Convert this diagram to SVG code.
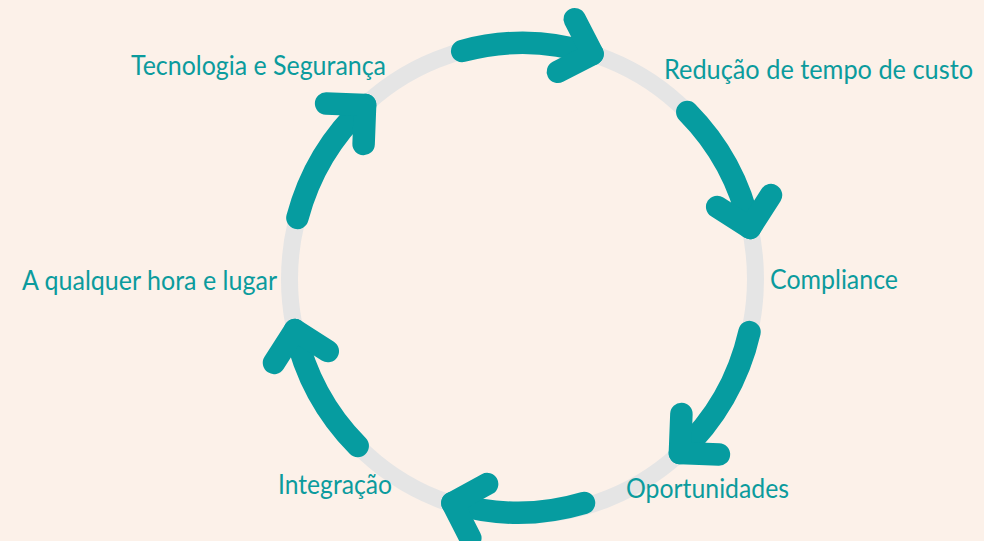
<svg xmlns="http://www.w3.org/2000/svg" width="984" height="541" viewBox="0 0 984 541">
<style>
.lbl{font-family:Lato,"Open Sans","Liberation Sans",sans-serif;font-size:27px;fill:#0b9b9d}
.shaft{fill:none;stroke:#069ca0;stroke-width:22.5;stroke-linecap:round}
.head{fill:none;stroke:#069ca0;stroke-width:22.5;stroke-linecap:round;stroke-linejoin:round}
</style>
<rect width="984" height="541" fill="#fcf1e9"/>
<g id="ring">
<ellipse cx="522.5" cy="279" rx="233" ry="236" fill="none" stroke="#e5e5e5" stroke-width="17"/>
</g>
<g id="connectors">
<g id="arrow1"><path class="shaft" d="M462.2,51 A233,236 0 0 1 592.6,53.9"/><polyline class="head" points="574.7,19.2 592.6,53.9 557.9,71.8"/></g>
<g id="arrow2"><path class="shaft" d="M687.3,112.1 A233,236 0 0 1 750,227.9"/><polyline class="head" points="771,195.1 750,227.9 717.2,206.9"/></g>
<g id="arrow3"><path class="shaft" d="M749.5,332.1 A233,236 0 0 1 679.9,453"/><polyline class="head" points="718.9,454.5 679.9,453 681.4,414"/></g>
<g id="arrow4"><path class="shaft" d="M584,503 A233,236 0 0 1 452.4,503"/><polyline class="head" points="470.3,538 452.4,503 487.1,484"/></g>
<g id="arrow5"><path class="shaft" d="M357.7,445.9 A233,236 0 0 1 295,330.1"/><polyline class="head" points="274,362.9 295,330.1 327.8,351.1"/></g>
<g id="arrow6"><path class="shaft" d="M297.4,217.9 A233,236 0 0 1 365.1,105"/><polyline class="head" points="326.1,103.5 365.1,105 363.6,144"/></g>
</g>
<g id="n1"><text class="lbl" x="131" y="75" textLength="255" lengthAdjust="spacingAndGlyphs">Tecnologia e Segurança</text></g>
<g id="n2"><text class="lbl" x="973" y="79" text-anchor="end" font-size="26" textLength="309" lengthAdjust="spacingAndGlyphs">Redução de tempo de custo</text></g>
<g id="n3"><text class="lbl" x="770" y="289" textLength="128" lengthAdjust="spacingAndGlyphs">Compliance</text></g>
<g id="n4"><text class="lbl" x="626" y="498" textLength="163" lengthAdjust="spacingAndGlyphs">Oportunidades</text></g>
<g id="n5"><text class="lbl" x="278" y="494" textLength="114" lengthAdjust="spacingAndGlyphs">Integração</text></g>
<g id="n6"><text class="lbl" x="22" y="290" textLength="255" lengthAdjust="spacingAndGlyphs">A qualquer hora e lugar</text></g>
</svg>
